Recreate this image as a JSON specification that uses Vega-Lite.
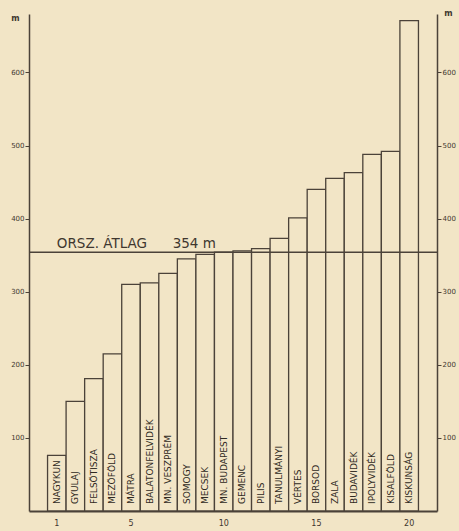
{
  "$schema": "https://vega.github.io/schema/vega-lite/v6.json",
  "autosize": {"type": "none"},
  "width": 408,
  "height": 497,
  "padding": {"left": 29, "top": 14, "right": 22, "bottom": 20},
  "background": "#f2e5c6",
  "config": {
    "view": {"stroke": null},
    "font": "DejaVu Sans",
    "axis": {"domainColor": "#4b4239", "tickColor": "#4b4239", "labelColor": "#3f372f", "titleColor": "#3f372f", "grid": false}
  },
  "datasets": {
    "bars": [
      {"n": 1, "name": "NAGYKUN", "m": 76},
      {"n": 2, "name": "GYULAJ", "m": 150},
      {"n": 3, "name": "FELSŐTISZA", "m": 181},
      {"n": 4, "name": "MEZŐFÖLD", "m": 215},
      {"n": 5, "name": "MÁTRA", "m": 310},
      {"n": 6, "name": "BALATONFELVIDÉK", "m": 312},
      {"n": 7, "name": "MN. VESZPRÉM", "m": 325},
      {"n": 8, "name": "SOMOGY", "m": 345},
      {"n": 9, "name": "MECSEK", "m": 351},
      {"n": 10, "name": "MN. BUDAPEST", "m": 354},
      {"n": 11, "name": "GEMENC", "m": 356},
      {"n": 12, "name": "PILIS", "m": 359},
      {"n": 13, "name": "TANULMÁNYI", "m": 373},
      {"n": 14, "name": "VÉRTES", "m": 401},
      {"n": 15, "name": "BORSOD", "m": 440},
      {"n": 16, "name": "ZALA", "m": 455},
      {"n": 17, "name": "BUDAVIDÉK", "m": 463},
      {"n": 18, "name": "IPOLYVIDÉK", "m": 488},
      {"n": 19, "name": "KISALFÖLD", "m": 492},
      {"n": 20, "name": "KISKUNSÁG", "m": 671}
    ],
    "avg": [
      {"label": "ORSZ. ÁTLAG \u00a0\u00a0\u00a0\u00a0\u00a0354 m", "m": 354, "n": 1}
    ]
  },
  "data": {"name": "bars"},
  "resolve": {"axis": {"y": "independent"}},
  "layer": [
    {
      "mark": {"type": "bar", "fill": "#f2e5c6", "stroke": "#4b4239", "strokeWidth": 1.3},
      "encoding": {
        "x": {
          "field": "n", "type": "ordinal",
          "scale": {"paddingInner": 0, "paddingOuter": 1},
          "axis": {
            "title": null, "labelAngle": 0, "ticks": false, "domainWidth": 2.2,
            "labelFontSize": 8, "labelPadding": 8,
            "labelExpr": "datum.value == 1 || datum.value % 5 == 0 ? datum.label : ''"
          }
        },
        "y": {
          "field": "m", "type": "quantitative",
          "scale": {"domain": [0, 680], "nice": false},
          "axis": {
            "orient": "left", "values": [100, 200, 300, 400, 500, 600],
            "labelFontSize": 7, "tickSize": 4, "labelPadding": 1, "domainWidth": 1.5,
            "title": "m", "titleAngle": 0, "titleX": -14, "titleY": 4,
            "titleFontSize": 8, "titleAlign": "center", "titleBaseline": "middle", "titleFontWeight": "bold"
          }
        }
      }
    },
    {
      "mark": {"type": "text", "angle": 270, "align": "left", "baseline": "middle", "dx": 7, "fontSize": 9, "color": "#2f2922"},
      "encoding": {
        "x": {"field": "n", "type": "ordinal"},
        "y": {"datum": 0, "type": "quantitative", "axis": null},
        "text": {"field": "name"}
      }
    },
    {
      "data": {"name": "avg"},
      "mark": {"type": "rule", "color": "#4b4239", "strokeWidth": 1.3},
      "encoding": {
        "y": {"field": "m", "type": "quantitative",
          "axis": {
            "orient": "right", "values": [100, 200, 300, 400, 500, 600],
            "labelFontSize": 7, "tickSize": 4, "labelPadding": 1, "domainWidth": 1.5,
            "title": "m", "titleAngle": 0, "titleX": 11, "titleY": -1,
            "titleFontSize": 8, "titleAlign": "center", "titleBaseline": "middle", "titleFontWeight": "bold"
          }
        }
      }
    },
    {
      "data": {"name": "avg"},
      "mark": {"type": "text", "align": "left", "baseline": "alphabetic", "dy": -4, "fontSize": 13.5, "color": "#3f372f"},
      "encoding": {
        "x": {"field": "n", "type": "ordinal"},
        "y": {"field": "m", "type": "quantitative", "axis": null},
        "text": {"field": "label"}
      }
    }
  ]
}
